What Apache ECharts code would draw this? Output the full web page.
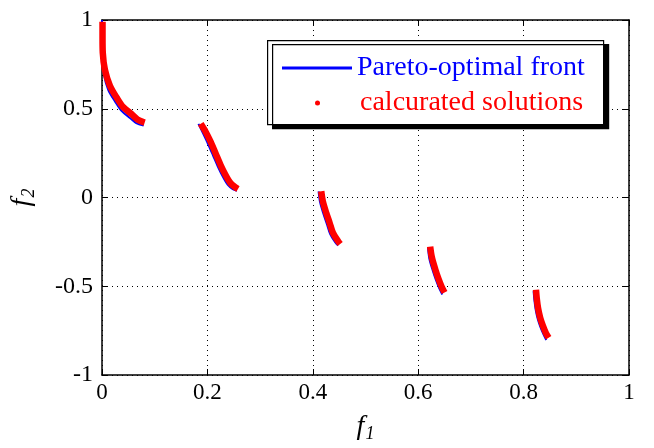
<!DOCTYPE html>
<html>
<head>
<meta charset="utf-8">
<script src="https://cdn.jsdelivr.net/npm/echarts@6/dist/echarts.min.js"></script>
<style>
  html, body { margin: 0; padding: 0; background: #fff; }
  #chart { width: 654px; height: 448px; }
</style>
</head>
<body>
<div id="chart"></div>
<script>
// tick labels
const xTickLabels = ['0', '0.2', '0.4', '0.6', '0.8', '1'];
const yTickLabels = ['-1', '-0.5', '0', '0.5', '1'];

// Pareto-optimal front, one array per disjoint piece
const frontF1 = [
  [0, 0, 0.001, 0.0035, 0.012, 0.025, 0.037, 0.053, 0.065, 0.079],
  [0.183, 0.192, 0.201, 0.2106, 0.220, 0.2294, 0.2388, 0.2482, 0.256],
  [0.411, 0.414, 0.4204, 0.4268, 0.433, 0.4424, 0.448],
  [0.6185, 0.6212, 0.6274, 0.6338, 0.640, 0.6458],
  [0.819, 0.8205, 0.823, 0.827, 0.832, 0.838, 0.843]
];
const frontF2 = [
  [1.0, 0.87, 0.79, 0.695, 0.605, 0.54, 0.488, 0.448, 0.419, 0.405],
  [0.415, 0.36, 0.303, 0.238, 0.173, 0.117, 0.071, 0.047, 0.038],
  [0.035, -0.029, -0.094, -0.15, -0.206, -0.252, -0.27],
  [-0.28, -0.345, -0.41, -0.466, -0.512, -0.546],
  [-0.528, -0.578, -0.633, -0.686, -0.73, -0.773, -0.803]
];

// calcurated solutions
const solF1 = [
  [0.001, 0.001, 0.0015, 0.0055, 0.015, 0.028, 0.040, 0.056, 0.068, 0.081],
  [0.1874, 0.1968, 0.2062, 0.2156, 0.2250, 0.2344, 0.2438, 0.2532, 0.258],
  [0.416, 0.419, 0.4254, 0.4318, 0.438, 0.4474, 0.452],
  [0.6227, 0.6259, 0.6321, 0.6385, 0.6447, 0.650],
  [0.8235, 0.825, 0.8275, 0.8315, 0.8365, 0.8425, 0.8475]
];
const solF2 = [
  [0.99, 0.90, 0.815, 0.72, 0.63, 0.562, 0.51, 0.47, 0.438, 0.422],
  [0.415, 0.369, 0.313, 0.248, 0.183, 0.127, 0.081, 0.057, 0.048],
  [0.035, -0.021, -0.086, -0.142, -0.198, -0.244, -0.262],
  [-0.277, -0.337, -0.402, -0.458, -0.504, -0.535],
  [-0.52, -0.57, -0.625, -0.678, -0.722, -0.765, -0.79]
];

const frontName = 'Pareto-optimal front';
const solName = 'calcurated solutions';
const serif = 'Liberation Serif';

function pairs(xs, ys) {
  return xs.map((x, i) => [x, ys[i]]);
}

const series = [];
frontF1.forEach((xs, k) => {
  series.push({
    name: frontName,
    type: 'line',
    data: pairs(xs, frontF2[k]),
    symbol: 'none',
    smooth: 0.3,
    color: '#0000ff',
    lineStyle: { width: 2, color: '#0000ff' },
    z: 2,
    silent: true
  });
});
solF1.forEach((xs, k) => {
  series.push({
    name: solName,
    type: 'line',
    data: pairs(xs, solF2[k]),
    symbol: 'none',
    smooth: 0.3,
    color: '#ff0000',
    lineStyle: { width: 6.5, color: '#ff0000', cap: 'butt' },
    z: 3,
    silent: true
  });
});

const axisLine = { onZero: false, lineStyle: { color: '#000', width: 1.5 } };
const axisTick = { inside: true, length: 6, lineStyle: { color: '#000' } };
const nameRich = {
  f: { fontFamily: serif, fontStyle: 'italic', fontSize: 28, color: '#000' },
  s: { fontFamily: serif, fontStyle: 'italic', fontSize: 18, color: '#000', padding: [14, 0, 0, 1] }
};
const gridDots = { show: true, lineStyle: { color: '#000', type: [1, 4], width: 1 } };

const chart = echarts.init(document.getElementById('chart'));
chart.setOption({
  animation: false,
  backgroundColor: '#fff',
  grid: { left: 97, right: 25, top: 20, bottom: 69 },
  xAxis: [
    {
      type: 'value', min: 0, max: 1, interval: 0.2,
      name: '{f|f}{s|1}', nameLocation: 'middle', nameGap: 36,
      nameTextStyle: { rich: nameRich },
      axisLine: axisLine, axisTick: axisTick,
      axisLabel: {
        margin: 6, color: '#000', fontFamily: serif, fontSize: 23,
        formatter: (v, i) => xTickLabels[i]
      },
      splitLine: gridDots
    },
    {
      type: 'value', position: 'top', min: 0, max: 1, interval: 0.2,
      axisLine: axisLine, axisTick: axisTick,
      axisLabel: { show: false },
      splitLine: { show: false }
    }
  ],
  yAxis: [
    {
      type: 'value', min: -1, max: 1, interval: 0.5,
      name: '{f|f}{s|2}', nameLocation: 'middle', nameGap: 64,
      nameTextStyle: { rich: nameRich },
      axisLine: axisLine, axisTick: axisTick,
      axisLabel: {
        margin: 9, color: '#000', fontFamily: serif, fontSize: 24,
        formatter: (v, i) => yTickLabels[i]
      },
      splitLine: gridDots
    },
    {
      type: 'value', position: 'right', min: -1, max: 1, interval: 0.5,
      axisLine: axisLine, axisTick: axisTick,
      axisLabel: { show: false },
      splitLine: { show: false }
    }
  ],
  graphic: [
    {
      type: 'rect', left: 267, top: 40, z: 50,
      shape: { width: 336, height: 84 },
      style: {
        fill: '#fff', stroke: '#000', lineWidth: 1.2,
        shadowColor: '#000', shadowOffsetX: 5, shadowOffsetY: 4, shadowBlur: 0
      }
    }
  ],
  legend: [
    {
      data: [{ name: frontName, icon: 'rect', itemStyle: { borderWidth: 0 } }],
      left: 282, top: 54, padding: 0, z: 60,
      selectedMode: false, itemWidth: 70, itemHeight: 3, symbolKeepAspect: false,
      textStyle: { color: '#0000ff', fontFamily: serif, fontSize: 28 }
    },
    {
      data: [{ name: solName, icon: 'circle', itemStyle: { borderWidth: 0 } }],
      left: 315, top: 89, padding: 0, z: 60,
      selectedMode: false, itemWidth: 5, itemHeight: 5,
      textStyle: { color: '#ff0000', fontFamily: serif, fontSize: 28, padding: [0, 0, 0, 35] }
    }
  ],
  series: series
});
</script>
</body>
</html>
